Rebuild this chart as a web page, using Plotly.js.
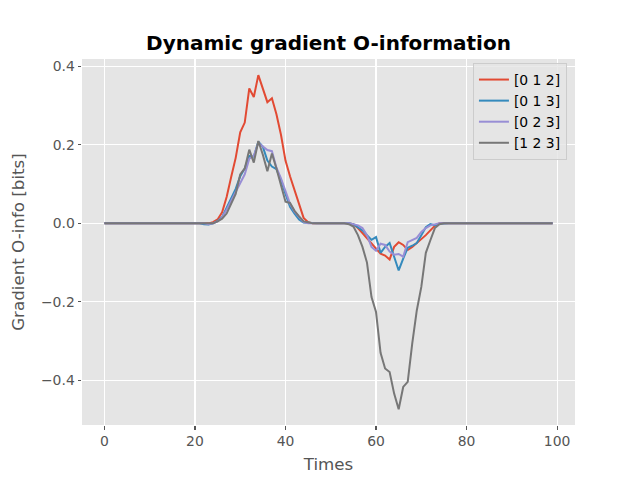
<!DOCTYPE html>
<html>
<head>
<meta charset="utf-8">
<script src="https://cdn.plot.ly/plotly-3.0.1.min.js"></script>
<style>html,body{margin:0;padding:0;background:#fff;}</style>
</head>
<body>
<div id="chart" style="width:640px;height:480px;"></div>
<script>
// Time steps
const times = [
  0,1,2,3,4,5,6,7,8,9,10,11,12,13,14,15,16,17,18,19,
  20,21,22,23,24,25,26,27,28,29,30,31,32,33,34,35,36,37,38,39,
  40,41,42,43,44,45,46,47,48,49,50,51,52,53,54,55,56,57,58,59,
  60,61,62,63,64,65,66,67,68,69,70,71,72,73,74,75,76,77,78,79,
  80,81,82,83,84,85,86,87,88,89,90,91,92,93,94,95,96,97,98,99
];

const seriesNames = ['[0 1 2]', '[0 1 3]', '[0 2 3]', '[1 2 3]'];

const s012 = [
  0,0,0,0,0,0,0,0,0,0,
  0,0,0,0,0,0,0,0,0,0,
  0,0,0,0,0.003,0.010,0.028,0.067,0.118,0.167,
  0.232,0.257,0.344,0.322,0.378,0.345,0.309,0.319,0.278,0.226,
  0.160,0.120,0.083,0.050,0.014,0.003,0,0,0,0,
  0,0,0,0,0,-0.003,-0.012,-0.025,-0.038,-0.052,
  -0.065,-0.077,-0.082,-0.092,-0.060,-0.048,-0.055,-0.068,-0.060,-0.050,
  -0.042,-0.030,-0.018,-0.006,0,0,0,0,0,0,
  0,0,0,0,0,0,0,0,0,0,
  0,0,0,0,0,0,0,0,0,0
];

const s013 = [
  0,0,0,0,0,0,0,0,0,0,
  0,0,0,0,0,0,0,0,0,0,
  0,0,-0.002,-0.003,0.000,0.006,0.016,0.040,0.065,0.088,
  0.120,0.140,0.172,0.170,0.208,0.195,0.160,0.145,0.138,0.110,
  0.075,0.042,0.025,0.010,0.002,0.001,0,0,0,0,
  0,0,0,0,0,-0.002,-0.009,-0.018,-0.030,-0.042,
  -0.035,-0.075,-0.060,-0.050,-0.085,-0.120,-0.090,-0.062,-0.057,-0.050,
  -0.030,-0.010,-0.002,-0.005,-0.001,0,0,0,0,0,
  0,0,0,0,0,0,0,0,0,0,
  0,0,0,0,0,0,0,0,0,0
];

const s023 = [
  0,0,0,0,0,0,0,0,0,0,
  0,0,0,0,0,0,0,0,0,0,
  0,0,0,-0.002,0.000,0.005,0.015,0.035,0.058,0.078,
  0.100,0.125,0.165,0.172,0.205,0.196,0.187,0.184,0.142,0.115,
  0.082,0.050,0.030,0.015,0.003,0,0,0,0,0,
  0,0,0,0,0,-0.002,-0.005,-0.012,-0.030,-0.060,
  -0.070,-0.052,-0.055,-0.072,-0.080,-0.078,-0.085,-0.048,-0.042,-0.037,
  -0.022,-0.012,-0.005,-0.002,0,0,0,0,0,0,
  0,0,0,0,0,0,0,0,0,0,
  0,0,0,0,0,0,0,0,0,0
];

const s123 = [
  0,0,0,0,0,0,0,0,0,0,
  0,0,0,0,0,0,0,0,0,0,
  0,0,0,0,0,0.005,0.012,0.025,0.050,0.075,
  0.125,0.140,0.188,0.155,0.210,0.175,0.133,0.178,0.140,0.095,
  0.055,0.052,0.032,0.018,0.005,0.003,0,0,0,0,
  0,0,0,0,-0.002,-0.008,-0.030,-0.060,-0.100,-0.188,
  -0.226,-0.330,-0.370,-0.379,-0.434,-0.474,-0.417,-0.404,-0.306,-0.222,
  -0.162,-0.075,-0.043,-0.012,-0.002,0,0,0,0,0,
  0,0,0,0,0,0,0,0,0,0,
  0,0,0,0,0,0,0,0,0,0
];

const xTickVals = [0, 20, 40, 60, 80, 100];
const yTickVals = [-0.4, -0.2, 0.0, 0.2, 0.4];
const yTickText = ['\u22120.4', '\u22120.2', '0.0', '0.2', '0.4'];

const colors = ['#E24A33', '#348ABD', '#988ED5', '#777777'];
const allSeries = [s012, s013, s023, s123];

const traces = allSeries.map((s, i) => ({
  x: times,
  y: s,
  type: 'scatter',
  mode: 'lines',
  name: seriesNames[i],
  line: {color: colors[i], width: 2}
}));

const font = 'DejaVu Sans, sans-serif';

const layout = {
  width: 640,
  height: 480,
  paper_bgcolor: '#FFFFFF',
  plot_bgcolor: '#E5E5E5',
  margin: {l: 82, r: 65, t: 59, b: 55, pad: 0},
  font: {family: font, color: '#555555', size: 14},
  title: {
    text: 'Dynamic gradient O-information',
    font: {family: font, size: 20, color: '#000000', weight: 'bold'},
    x: 0.5, xref: 'paper', xanchor: 'center',
    y: 1, yref: 'paper', yanchor: 'bottom',
    pad: {b: 9}
  },
  xaxis: {
    range: [-4.95, 103.95],
    tickmode: 'array',
    tickvals: xTickVals,
    showgrid: true, gridcolor: '#FFFFFF', gridwidth: 1.1,
    zeroline: false, showline: false,
    ticks: 'outside', ticklen: 3.5, tickwidth: 1.1, tickcolor: '#555555',
    tickfont: {family: font, size: 13.9, color: '#555555'},
    title: {text: 'Times', font: {family: font, size: 16.7, color: '#555555'}, standoff: 10},
    automargin: false
  },
  yaxis: {
    range: [-0.514, 0.419],
    tickmode: 'array',
    tickvals: yTickVals,
    ticktext: yTickText,
    showgrid: true, gridcolor: '#FFFFFF', gridwidth: 1.1,
    zeroline: false, showline: false,
    ticks: 'outside', ticklen: 3.5, tickwidth: 1.1, tickcolor: '#555555',
    tickfont: {family: font, size: 13.9, color: '#555555'},
    title: {text: 'Gradient O-info [bits]', font: {family: font, size: 16.7, color: '#555555'}, standoff: 12},
    automargin: false
  },
  showlegend: true,
  legend: {
    x: 0.793, y: 0.989, xanchor: 'left', yanchor: 'top',
    xref: 'paper', yref: 'paper',
    bgcolor: 'rgba(229,229,229,0.8)',
    bordercolor: '#CCCCCC', borderwidth: 1,
    font: {family: font, size: 13.9, color: '#000000'},
    itemwidth: 30,
    tracegroupgap: 0
  }
};

Plotly.newPlot('chart', traces, layout, {displayModeBar: false, staticPlot: true});
</script>
</body>
</html>
